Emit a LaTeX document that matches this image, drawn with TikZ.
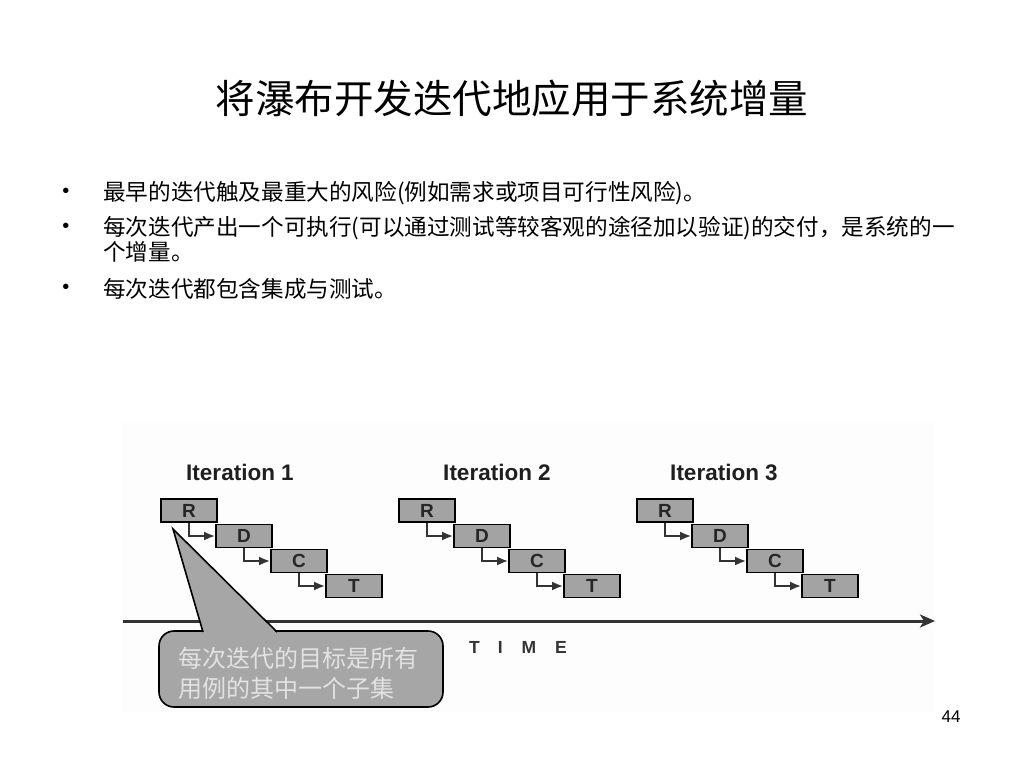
\documentclass[tikz,border=0pt]{standalone}
\usepackage{fontspec}
\setmainfont{Liberation Sans}
\newfontfamily\cjk{Noto Sans CJK SC}
\usetikzlibrary{arrows.meta}
\definecolor{boxgray}{HTML}{A3A3A3}
\definecolor{callgray}{HTML}{A6A6A6}
\definecolor{linegray}{HTML}{333333}
\definecolor{panelbg}{HTML}{FDFDFD}
\definecolor{calltext}{HTML}{E2E2E2}
\tikzset{
  stagebox/.style={draw=black, line width=1.8pt, fill=boxgray, minimum width=56pt, minimum height=23pt,
    inner sep=0pt, font=\fontsize{19}{19}\selectfont\bfseries, text=black!85},
  flow/.style={draw=linegray, line width=2pt, -{Latex[length=11pt,width=9pt]}},
  itlabel/.style={font=\fontsize{22.5}{24}\selectfont\bfseries, text=black!88, inner sep=0pt},
  bullettext/.style={font=\cjk\fontsize{22.6}{24}\selectfont, anchor=west, inner sep=0pt},
  bulletdot/.style={font=\fontsize{20}{22}\selectfont, inner sep=0pt},
}
\begin{document}
\begin{tikzpicture}[x=1pt,y=-1pt]
\useasboundingbox (0,0) rectangle (1024,768);
\fill[white] (0,0) rectangle (1024,768);
% title
\node[font=\cjk\fontsize{39.5}{44}\selectfont, inner sep=0pt] (title) at (512,98) {将瀑布开发迭代地应用于系统增量};
% bullets
\node[bulletdot] (b1) at (66,193) {•};
\node[bullettext] (t1) at (103,193) {最早的迭代触及最重大的风险(例如需求或项目可行性风险)。};
\node[bulletdot] (b2) at (66,228) {•};
\node[bullettext] (t2) at (103,228) {每次迭代产出一个可执行(可以通过测试等较客观的途径加以验证)的交付，是系统的一};
\node[bullettext] (t2b) at (103,252) {个增量。};
\node[bulletdot] (b3) at (66,289) {•};
\node[bullettext] (t3) at (103,289) {每次迭代都包含集成与测试。};
% diagram panel
\fill[panelbg] (122,422) rectangle (935,712);
% iteration labels
\node[itlabel] (it1) at (240,472) {Iteration 1};
\node[itlabel] (it2) at (497,472) {Iteration 2};
\node[itlabel] (it3) at (724,472) {Iteration 3};
% boxes
\foreach \i/\dx in {1/0,2/238,3/476}{
  \node[stagebox] (R\i) at (189+\dx,510.5) {R};
  \node[stagebox] (D\i) at (244+\dx,536) {D};
  \node[stagebox] (C\i) at (299+\dx,561) {C};
  \node[stagebox] (T\i) at (354+\dx,586) {T};
  \draw[flow] (R\i.south) |- (D\i.west);
  \draw[flow] (D\i.south) |- (C\i.west);
  \draw[flow] (C\i.south) |- (T\i.west);
}
% time axis
\coordinate (ax0) at (123,621);
\coordinate (ax1) at (935,621);
\draw[linegray, line width=3pt, -{Stealth[length=15pt,width=13pt,inset=4pt]}] (ax0) -- (ax1);
\node[font=\fontsize{17.5}{18}\selectfont\bfseries, text=linegray, inner sep=0pt] (time) at (518,647)
  {T\hspace{18pt}I\hspace{19pt}M\hspace{19pt}E};
% callout
\filldraw[fill=callgray, draw=black, line width=1.6pt, rounded corners=15pt] (159,631) rectangle (443,707);
\fill[callgray] (203,633.5) -- (173,529) -- (277,633.5) -- cycle;
\coordinate (tip) at (173,529);
\draw[black, line width=1.6pt, line join=miter] (203,632) -- (tip) -- (277,632);
\node[font=\cjk\fontsize{24}{30}\selectfont, text=calltext, anchor=west, align=left, inner sep=0pt] (ctext) at (178,673)
  {每次迭代的目标是所有\\用例的其中一个子集};
% page number
\node[font=\fontsize{17}{18}\selectfont, inner sep=0pt] (pg) at (951,717) {44};
\end{tikzpicture}
\end{document}
